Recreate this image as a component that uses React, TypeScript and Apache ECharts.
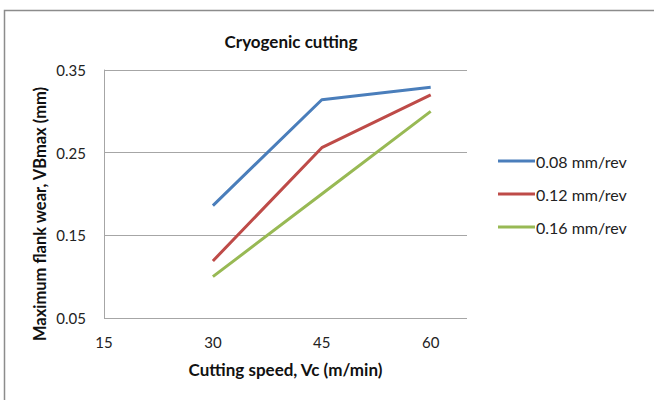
import React, { useEffect, useRef } from "react";
import * as echarts from "echarts";

const titleText = "Cryogenic cutting";
const xAxisName = "Cutting speed, Vc (m/min)";
const yAxisName = "Maximum flank wear, VBmax (mm)";
const speeds = [30, 45, 60];
const seriesNames = ["0.08 mm/rev", "0.12 mm/rev", "0.16 mm/rev"];
const wear008 = [0.186, 0.314, 0.329];
const wear012 = [0.119, 0.256, 0.32];
const wear016 = [0.1, 0.2, 0.3];
const colors = ["#4A7EBB", "#BE4B48", "#98B954"];

const FONT = "Lato, 'Liberation Sans', sans-serif";

export default function App() {
  const ref = useRef<HTMLDivElement>(null);
  useEffect(() => {
    if (!ref.current) return;
    const chart = echarts.init(ref.current, null, { renderer: "svg" });
    const values = [wear008, wear012, wear016];
    chart.setOption({
      animation: false,
      backgroundColor: "#ffffff",
      textStyle: { fontFamily: FONT },
      title: {
        text: titleText,
        left: 291,
        top: 33,
        padding: 0,
        textAlign: "center",
        textStyle: { fontFamily: FONT, fontSize: 17, fontWeight: "bold", color: "#111" },
      },
      graphic: [
        {
          type: "rect",
          shape: { x: 4.5, y: 10.5, width: 700, height: 500 },
          style: { fill: "none", stroke: "#8c8c8c", lineWidth: 1.5 },
          silent: true,
        },
        {
          type: "text",
          x: 40,
          y: 214,
          rotation: Math.PI / 2,
          style: {
            text: yAxisName,
            fontFamily: FONT,
            fontSize: 16.5,
            fontWeight: "bold",
            fill: "#111",
            textAlign: "center",
            textVerticalAlign: "middle",
          },
        },
      ],
      legend: {
        orient: "vertical",
        left: 498,
        top: 152,
        padding: 0,
        icon: "rect",
        itemWidth: 37,
        itemHeight: 3,
        itemGap: 15,
        data: seriesNames,
        textStyle: { fontFamily: FONT, fontSize: 16, color: "#222", lineHeight: 18, padding: [0, 0, 0, -4] },
      },
      grid: { left: 104, right: 187, top: 70, bottom: 82 },
      xAxis: {
        type: "value",
        min: 15,
        max: 65,
        interval: 15,
        name: xAxisName,
        nameLocation: "middle",
        nameGap: 43,
        nameTextStyle: { fontFamily: FONT, fontSize: 17, fontWeight: "bold", color: "#111" },
        axisLine: { show: false },
        axisTick: { show: false },
        splitLine: { show: false },
        axisLabel: {
          fontFamily: FONT,
          fontSize: 15,
          color: "#222",
          margin: 16,
          formatter: (v: number) => (v === 65 ? "" : String(v)),
        },
      },
      yAxis: {
        type: "value",
        min: 0.05,
        max: 0.35,
        interval: 0.1,
        axisLine: { show: true, lineStyle: { color: "#a6a6a6", width: 1 } },
        axisTick: { show: false },
        splitLine: { show: true, lineStyle: { color: "#a6a6a6", width: 1 } },
        axisLabel: {
          fontFamily: FONT,
          fontSize: 15,
          color: "#222",
          margin: 18,
          formatter: (v: number) => v.toFixed(2),
        },
      },
      series: seriesNames.map((name, i) => ({
        name,
        type: "line",
        data: speeds.map((s, j) => [s, values[i][j]]),
        symbol: "none",
        lineStyle: { color: colors[i], width: 3 },
        itemStyle: { color: colors[i] },
      })),
    });
    return () => chart.dispose();
  }, []);
  return (
    <div
      ref={ref}
      style={{ position: "fixed", left: 0, top: 0, width: 654, height: 400 }}
    />
  );
}
